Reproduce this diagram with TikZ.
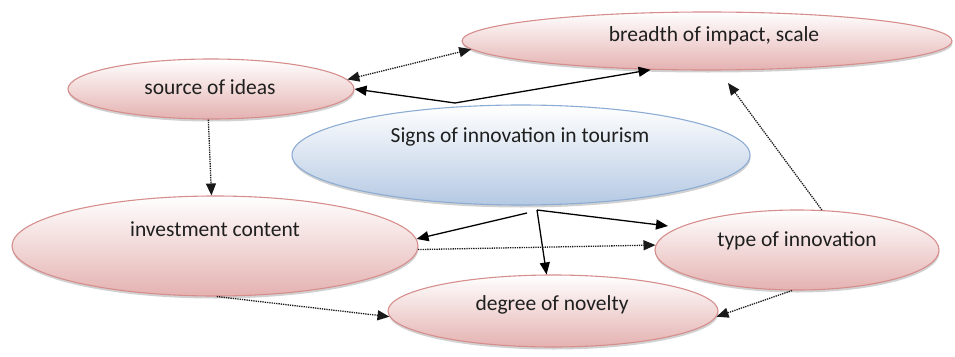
\documentclass[tikz,border=0pt]{standalone}
\usepackage{fontspec}
\setmainfont{Carlito}
\usetikzlibrary{shapes.geometric,arrows.meta,shadows}
\definecolor{pinkb}{RGB}{228,178,177}
\definecolor{pinkd}{RGB}{214,142,141}
\definecolor{blueb}{RGB}{181,201,227}
\definecolor{blued}{RGB}{140,172,212}
\tikzset{
  pinkell/.style={ellipse, draw=pinkd, line width=1.1pt, top color=white, bottom color=pinkb, inner sep=0pt,
    drop shadow={shadow xshift=0.5pt, shadow yshift=-2.5pt, opacity=0.3, fill=black!60}},
  blueell/.style={ellipse, draw=blued, line width=1.1pt, top color=white, bottom color=blueb, inner sep=0pt,
    drop shadow={shadow xshift=0.5pt, shadow yshift=-2.5pt, opacity=0.3, fill=black!60}},
  lbl/.style={font=\fontsize{21.5}{24}\selectfont, text=black!88, inner sep=0pt},
  tip/.style={-{Triangle[length=12pt,width=10pt]}},
  solidarr/.style={line width=1.3pt, draw=black, tip},
  dotarr/.style={line width=1.3pt, draw=black!90, densely dotted, tip},
}
\begin{document}
\begin{tikzpicture}[x=1pt,y=-1pt]
\useasboundingbox (0,0) rectangle (955,356);
% ellipses
\node[pinkell, minimum width=490pt, minimum height=58pt] (brd) at (707,41) {};
\node[pinkell, minimum width=286pt, minimum height=60pt] (src) at (211,89) {};
\node[blueell, minimum width=458pt, minimum height=100pt] (sig) at (521,155) {};
\node[pinkell, minimum width=406pt, minimum height=100pt] (inv) at (215,246) {};
\node[pinkell, minimum width=284pt, minimum height=80pt] (typ) at (797,250) {};
\node[pinkell, minimum width=330pt, minimum height=72pt] (deg) at (553,311) {};
% labels
\node[lbl] (tbrd) at (714,36) {breadth of impact, scale};
\node[lbl] (tsrc) at (210,87) {source of ideas};
\node[lbl] (tsig) at (520,137) {Signs of innovation in tourism};
\node[lbl] (tinv) at (215,229) {investment content};
\node[lbl] (ttyp) at (797,241) {type of innovation};
\node[lbl] (tdeg) at (552,305) {degree of novelty};
% free ends
\coordinate (sgt) at (455,103);
\coordinate (sgb1) at (527,213);
\coordinate (sgb2) at (537,210);
\coordinate (tt) at (668,226);
\coordinate (bt) at (728,83);
% connectors
\draw[solidarr] (sgt) -- (src.east);
\draw[solidarr] (sgt) -- (brd.207);
\draw[dotarr, {Triangle[length=12pt,width=10pt]}-{Triangle[length=12pt,width=10pt]}] (src.4) -- (brd.182);
\draw[dotarr] (src.265) -- (inv.94);
\draw[dotarr] (typ.58) -- (bt);
\draw[solidarr] (sgb1) -- (inv.2);
\draw[solidarr] (sgb2) -- (deg.100);
\draw[solidarr] (sgb2) -- (tt);
\draw[dotarr] (inv.-1) -- (typ.178);
\draw[dotarr] (inv.-88) -- (deg.182);
\draw[dotarr] (typ.-97) -- (deg.-2);
\end{tikzpicture}
\end{document}
